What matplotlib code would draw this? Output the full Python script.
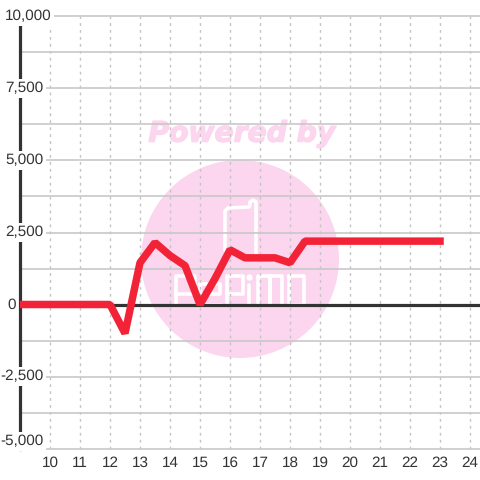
import matplotlib
matplotlib.use('Agg')
import matplotlib.pyplot as plt
import matplotlib.patheffects as pe
from matplotlib.patches import Circle

plt.rcParams['font.family'] = ['Liberation Sans', 'DejaVu Sans']
plt.rcParams['text.hinting'] = 'no_hinting'

x_vals = [9, 10, 11, 12, 12.5, 13, 13.5, 14, 14.5, 15, 15.5, 16, 16.5, 17, 17.5, 18, 18.5, 19, 20, 21, 22, 23]
y_vals = [0, 0, 0, 0, -1000, 1450, 2150, 1700, 1350, 0, 900, 1900, 1620, 1620, 1620, 1450, 2200, 2200, 2200, 2200, 2200, 2200]
x_ticks = [10, 11, 12, 13, 14, 15, 16, 17, 18, 19, 20, 21, 22, 23, 24]
y_ticks = [-5000, -2500, 0, 2500, 5000, 7500, 10000]
y_minor = [-3750, -1250, 1250, 3750, 6250, 8750]
y_labels = ['-5,000', '-2,500', '0', '2,500', '5,000', '7,500', '10,000']

fig = plt.figure(figsize=(4.8, 4.8), dpi=100)

# watermark sits under the grid, this axes is in pixels
bg = fig.add_axes([0, 0, 1, 1], zorder=0)
bg.set_xlim(0, 480)
bg.set_ylim(480, 0)
bg.axis('off')
bg.add_patch(Circle((240, 259), 99, color='#fcd5ee', lw=0))
bg.text(242, 134, 'Powered by', color='#fcd5ee', fontsize=20.3, fontweight='bold',
        fontstyle='italic', ha='center', va='center', family='DejaVu Sans',
        path_effects=[pe.withStroke(linewidth=1, foreground='#fcd5ee')])
logo = [
    ([225, 225, 228, 249, 250, 250, 253, 256, 256], [250, 211, 208, 207, 205, 202, 200, 202, 253]),
    ([176, 176, 195, 195, 176], [305, 276, 276, 294, 294]),
    ([200, 200, 220, 220, 200, 200, 222], [294, 284, 284, 294, 294, 305, 305]),
    ([227, 227, 243, 243, 227], [305, 276, 276, 294, 294]),
    ([249, 249], [285, 305]),
    ([258, 258, 270, 270, 270, 282, 282], [305, 276, 276, 305, 276, 276, 305]),
    ([289, 289, 304, 304, 289], [276, 305, 305, 276, 276]),
]
for lx, ly in logo:
    bg.plot(lx, ly, color='white', lw=2.6, solid_capstyle='round', solid_joinstyle='round')
bg.plot([249], [277], 'o', color='white', ms=4.5, mew=0)

ax = fig.add_axes([20 / 480, (480 - 448.5) / 480, 460 / 480, 432 / 480], zorder=1)
ax.patch.set_alpha(0)
ax.set_xlim(9, 24.333)
ax.set_ylim(-5000, 10000)
for s in ax.spines.values():
    s.set_visible(False)

ax.set_xticks(x_ticks)
ax.set_yticks([])
ax.tick_params(axis='x', length=0, pad=5.5, labelsize=11, labelcolor='#333333')
ax.grid(axis='x', color='#c4c4c4', lw=1, ls=(0, (2, 3)))
ax.set_axisbelow(True)

for v in y_minor + y_ticks:
    if v != 0:
        ax.plot([9, 24.333], [v, v], color='#c8c8c8', lw=1.2, zorder=1, clip_on=False)

ax.plot([9, 24.333], [0, 0], color='#333333', lw=2.3, zorder=2)
ax.plot([9, 9], [-5000, 10000], color='#333333', lw=2.3, zorder=2, clip_on=False)

# y labels are knocked out of the axis line with a white box
for v, lab in zip(y_ticks, y_labels):
    if v == 0:
        ax.annotate(lab, (9, v), xytext=(-4, 0), textcoords='offset pixels', ha='right',
                    va='center', fontsize=11, color='#333333', annotation_clip=False)
        continue
    dx = 8 if v == 10000 else 0
    dy = 7 if v == -5000 else 0
    ax.annotate(lab, (9, v), xytext=(23.5 + dx, dy), textcoords='offset pixels',
                ha='right', va='center', fontsize=11, color='#333333', zorder=2.5,
                annotation_clip=False,
                bbox=dict(facecolor='white', edgecolor='none', pad=1.5))

ax.plot(x_vals, y_vals, color='#f32337', lw=5.4, zorder=3, solid_joinstyle='bevel', solid_capstyle='projecting')

fig.savefig('out.png', dpi=100)
